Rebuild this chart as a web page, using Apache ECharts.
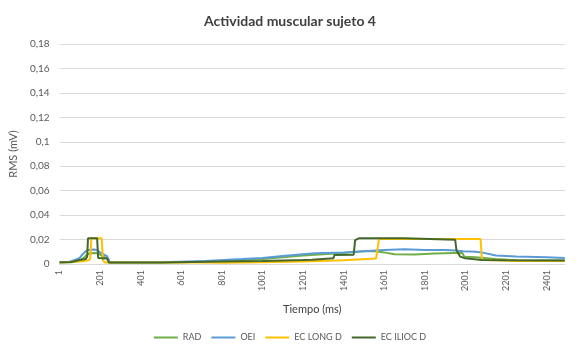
<!DOCTYPE html>
<html>
<head>
<meta charset="utf-8">
<script src="https://cdn.jsdelivr.net/npm/echarts@6/dist/echarts.min.js"></script>
<style>
 html, body { margin: 0; padding: 0; background: #fff; }
 #chartMain { width: 580px; height: 354px; }
</style>
</head>
<body>
<div id="chartMain"></div>
<script>
 var seriesNames = ['RAD', 'OEI', 'EC LONG D', 'EC ILIOC D'];
 var colors = ['#70ad47', '#5b9bd5', '#ffc000', '#43682b'];

 // tiempo (ms) y RMS (mV)
 var radT = [1, 60, 100, 120, 135, 150, 175, 195, 210, 230, 240, 248, 500, 800, 1000, 1100, 1200, 1300, 1400, 1500, 1560, 1600, 1650, 1750, 1850, 1950, 1985, 1995, 2050, 2150, 2250, 2490];
 var radV = [0.0012, 0.0015, 0.003, 0.005, 0.0075, 0.0088, 0.009, 0.0085, 0.0065, 0.005, 0.0045, 0.0013, 0.0013, 0.002, 0.004, 0.0055, 0.007, 0.008, 0.009, 0.0105, 0.0105, 0.0095, 0.008, 0.0078, 0.0085, 0.009, 0.009, 0.006, 0.0055, 0.004, 0.003, 0.0028];

 var oeiT = [1, 50, 80, 100, 115, 130, 145, 170, 185, 200, 215, 235, 242, 248, 500, 720, 900, 1000, 1100, 1200, 1260, 1400, 1500, 1600, 1700, 1800, 1900, 1950, 1990, 2050, 2080, 2150, 2250, 2400, 2490];
 var oeiV = [0.0012, 0.0018, 0.0035, 0.005, 0.008, 0.0105, 0.0115, 0.0118, 0.0115, 0.0095, 0.008, 0.0065, 0.006, 0.0013, 0.0015, 0.0025, 0.004, 0.005, 0.0065, 0.008, 0.0087, 0.0095, 0.0105, 0.0115, 0.012, 0.0115, 0.0115, 0.011, 0.0105, 0.01, 0.0095, 0.007, 0.0062, 0.0055, 0.005];

 var longT = [1, 100, 145, 152, 158, 208, 215, 225, 700, 800, 1000, 1200, 1400, 1560, 1568, 1575, 2075, 2082, 2150, 2250, 2490];
 var longV = [0.0012, 0.002, 0.003, 0.005, 0.021, 0.021, 0.003, 0.0012, 0.0012, 0.001, 0.0015, 0.002, 0.003, 0.0045, 0.0047, 0.0205, 0.0205, 0.0033, 0.003, 0.0025, 0.0025];

 var iliocT = [1, 60, 100, 130, 137, 141, 186, 191, 235, 243, 500, 800, 1000, 1200, 1245, 1250, 1350, 1355, 1450, 1457, 1475, 1700, 1950, 1956, 1975, 2000, 2080, 2200, 2490];
 var iliocV = [0.0014, 0.0017, 0.0033, 0.004, 0.006, 0.021, 0.021, 0.005, 0.0045, 0.0013, 0.0013, 0.002, 0.0025, 0.0033, 0.0035, 0.0046, 0.0048, 0.0074, 0.0076, 0.0196, 0.021, 0.021, 0.0198, 0.0115, 0.006, 0.0046, 0.0033, 0.003, 0.0028];

 var xMax = 2490;
 var xStep = 200;
 var yMax = 0.18;
 var yStep = 0.02;

 function pairs(t, v) {
	var arr = [];
	for(var i = 0; i < t.length; i++) {
		arr.push([t[i] - 1, v[i]]);
	}
	return arr;
 }

 var dataSets = [pairs(radT, radV), pairs(oeiT, oeiV), pairs(longT, longV), pairs(iliocT, iliocV)];

 var myChart = echarts.init(document.getElementById('chartMain'));
 var font = 'Lato, "Open Sans", sans-serif';

 var series = [];
 for(var s = 0; s < seriesNames.length; s++) {
	series.push({
		name: seriesNames[s],
		type: 'line',
		data: dataSets[s],
		showSymbol: false,
		symbol: 'none',
		lineStyle: { width: 2, color: colors[s] },
		itemStyle: { color: colors[s] },
		animation: false
	});
 }

 var option = {
	animation: false,
	color: colors,
	title: {
		text: 'Actividad muscular sujeto 4',
		left: 'center',
		top: 9,
		textStyle: { fontFamily: font, fontSize: 14, fontWeight: 'bold', color: '#404040' }
	},
	grid: { left: 50, right: 15, top: 44, bottom: 90 },
	legend: {
		bottom: 7,
		left: 'center',
		icon: 'rect',
		itemWidth: 24,
		itemHeight: 2,
		itemGap: 10,
		textStyle: { fontFamily: font, fontSize: 9, color: '#595959' },
		data: seriesNames
	},
	xAxis: {
		type: 'value',
		min: 0,
		max: xMax,
		interval: xStep,
		name: 'Tiempo (ms)',
		nameLocation: 'middle',
		nameGap: 40,
		nameTextStyle: { fontFamily: font, fontSize: 11, color: '#404040' },
		axisLine: { show: true, lineStyle: { color: '#d9d9d9' } },
		axisTick: { show: false },
		splitLine: { show: false },
		axisLabel: {
			rotate: 90,
			margin: 6,
			fontFamily: font,
			fontSize: 9,
			color: '#595959',
			showMaxLabel: false,
			formatter: function(v) {
				if(v % xStep !== 0) {
					return '';
				}
				return String(v + 1);
			}
		}
	},
	yAxis: {
		type: 'value',
		min: 0,
		max: yMax,
		interval: yStep,
		name: 'RMS (mV)',
		nameLocation: 'middle',
		nameGap: 34,
		nameTextStyle: { fontFamily: font, fontSize: 11, color: '#595959' },
		axisLine: { show: false },
		axisTick: { show: false },
		splitLine: { lineStyle: { color: '#d9d9d9', width: 1 } },
		axisLabel: {
			margin: 10,
			fontFamily: font,
			fontSize: 10,
			color: '#595959',
			formatter: function(v) {
				return String(parseFloat(v.toFixed(2))).replace('.', ',');
			}
		}
	},
	series: series
 };

 myChart.setOption(option);
</script>
</body>
</html>
